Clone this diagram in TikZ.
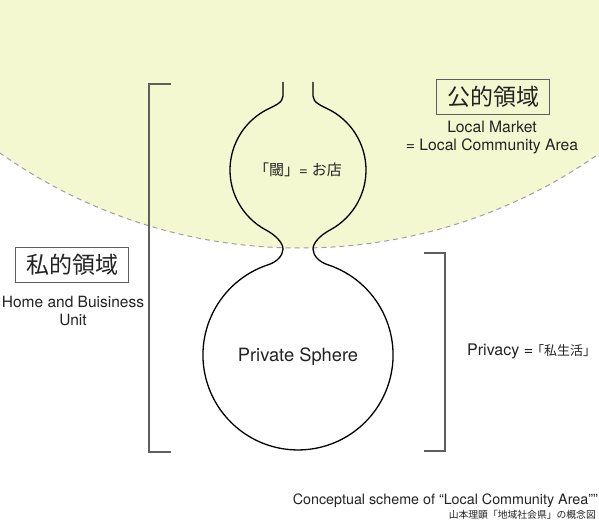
\documentclass[tikz,border=0pt]{standalone}
\usepackage{fontspec}
\setmainfont{TeX Gyre Heros}
\newfontfamily\jp{Noto Sans CJK JP}
\definecolor{pubyellow}{RGB}{244,248,208}
\definecolor{dashgray}{RGB}{160,160,160}
\definecolor{linegray}{RGB}{95,95,95}
\definecolor{textgray}{RGB}{35,35,35}
\newcommand\gourdHalfPath{%
  (283,82) -- (283,96) .. controls (283,103) and (274,105.8) .. (266.1,110)
  arc[start angle=242, end angle=118, radius=68]
  .. controls (274,234.2) and (283,242) .. (283,249)
  .. controls (283,256) and (276.2,262.1) .. (268.6,264.6)
  arc[start angle=252, end angle=90, radius=95]}
\begin{document}
\begin{tikzpicture}[x=1pt,y=-1pt,
  gourd/.style={draw=black, line width=1.3pt},
  bracketline/.style={draw=linegray, line width=1.1pt},
  areabox/.style={draw=linegray, line width=0.9pt, minimum width=113pt, minimum height=35pt, inner sep=0pt, font=\jp\fontsize{23}{23}\selectfont, text=textgray},
  lbl/.style={inner sep=0pt, text=textgray, align=center}]
\useasboundingbox (0,0) rectangle (599,524);
\fill[white] (0,0) rectangle (599,524);
\begin{scope}
  \clip (0,0) rectangle (599,524);
  \fill[pubyellow] (300,-273) circle[radius=521];
  \draw[dashgray, line width=1pt, dash pattern=on 5pt off 4pt] (300,-273) circle[radius=521];
\end{scope}
% gourd
\draw[gourd] \gourdHalfPath;
\begin{scope}[xshift=596pt, xscale=-1]
  \draw[gourd] \gourdHalfPath;
\end{scope}
% brackets
\coordinate (lbt) at (171,84);
\coordinate (lbb) at (171,452);
\draw[bracketline] (lbt) -- (149,84) -- (149,452) -- (lbb);
\coordinate (rbt) at (424,253);
\coordinate (rbb) at (424,451);
\draw[bracketline] (rbt) -- (445,253) -- (445,451) -- (rbb);
% boxes
\node[areabox] (pub) at (493,97) {公的領域};
\node[areabox] (priv) at (72,265) {私的領域};
% labels
\node[lbl, font=\fontsize{15.7}{18}\selectfont] (market) at (492,137) {Local Market\\= Local Community Area};
\node[lbl, font=\fontsize{15.5}{18}\selectfont] (home) at (73,311) {Home and Buisiness\\Unit};
\node[lbl, font=\fontsize{15}{15}\selectfont] (gate) at (298,170) {{\jp 「閾」}= {\jp お店}};
\node[lbl, font=\fontsize{18.3}{18}\selectfont] (sphere) at (298,357) {Private Sphere};
\node[lbl, font=\fontsize{16}{16}\selectfont, anchor=west] (privacy) at (467,351) {Privacy =\kern-2pt{\jp\fontsize{13}{14}\selectfont 「私生活」}};
\node[lbl, font=\fontsize{14.3}{14}\selectfont, anchor=east] (cap1) at (598,501) {Conceptual scheme of “Local Community Area”"};
\node[lbl, font=\jp\fontsize{9.8}{10}\selectfont, anchor=east] (cap2) at (596,515) {山本理顕「地域社会県」の概念図};
\end{tikzpicture}
\end{document}
